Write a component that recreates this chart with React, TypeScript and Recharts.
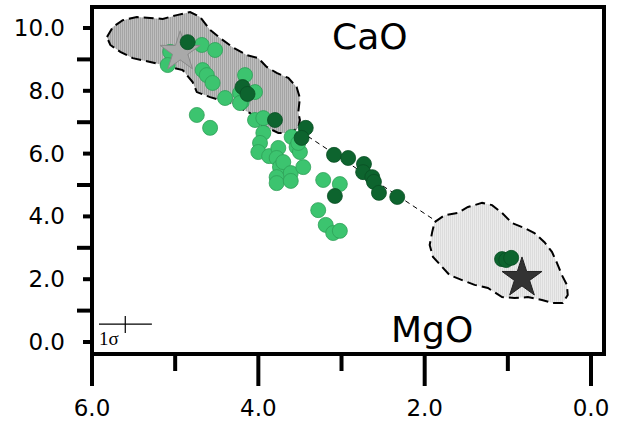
import { ScatterChart, Scatter, XAxis, YAxis, ReferenceArea, ReferenceLine } from "recharts";

// MgO (x) vs CaO (y), wt%
const lightPoints: [number, number][] = [
  [4.68, 9.46], [4.52, 9.3], [5.06, 9.24], [5.09, 8.82], [4.67, 8.66], [4.62, 8.5],
  [4.55, 8.25], [4.16, 8.5], [4.4, 7.77], [4.22, 7.93], [4.2, 7.64], [4.04, 7.96],
  [4.22, 7.61], [4.74, 7.23], [4.58, 6.82], [4.04, 7.07], [3.94, 7.13], [3.94, 6.66],
  [3.98, 6.34], [4.0, 6.05], [3.87, 5.92], [3.76, 6.18], [3.78, 5.86], [3.74, 5.57],
  [3.7, 5.73], [3.78, 5.25], [3.78, 5.06], [3.61, 5.38], [3.61, 5.13], [3.6, 6.53],
  [3.54, 6.21], [3.5, 6.05], [3.52, 6.34], [3.46, 5.57], [3.22, 5.16], [3.02, 5.03],
  [3.28, 4.2], [3.19, 3.73], [3.1, 3.47], [3.02, 3.54],
];

const darkPoints: [number, number][] = [
  [4.85, 9.55], [4.19, 8.12], [4.13, 7.9], [3.8, 7.07], [3.43, 6.82], [3.48, 6.5],
  [3.09, 5.96], [2.92, 5.86], [2.73, 5.67], [2.74, 5.41], [2.63, 5.25], [2.61, 5.1],
  [2.55, 4.75], [2.33, 4.62], [3.08, 4.65], [1.07, 2.64], [1.02, 2.61], [0.96, 2.68],
];

const upperField: [number, number][] = [
  [5.82, 9.71], [5.75, 10.03], [5.63, 10.25], [5.46, 10.35], [5.3, 10.32], [5.15, 10.29],
  [4.98, 10.41], [4.82, 10.51], [4.7, 10.35], [4.58, 9.94], [4.46, 9.68], [4.31, 9.39],
  [4.14, 9.14], [4.0, 9.04], [3.9, 8.76], [3.78, 8.57], [3.64, 8.41], [3.54, 8.12],
  [3.5, 7.77], [3.52, 7.32], [3.5, 7.07], [3.52, 6.82], [3.62, 6.66], [3.76, 6.66],
  [3.96, 6.91], [4.1, 7.29], [4.34, 7.61], [4.58, 7.8], [4.74, 7.96], [4.79, 8.28],
  [4.91, 8.66], [5.15, 8.82], [5.3, 8.92], [5.51, 9.04], [5.66, 9.24], [5.78, 9.46],
];

const lowerField: [number, number][] = [
  [1.88, 3.82], [1.76, 4.04], [1.6, 4.11], [1.48, 4.3], [1.31, 4.43], [1.19, 4.36],
  [1.07, 4.11], [0.95, 3.79], [0.8, 3.63], [0.68, 3.47], [0.56, 3.18], [0.47, 2.87],
  [0.41, 2.52], [0.35, 2.13], [0.29, 1.82], [0.28, 1.5], [0.34, 1.24], [0.46, 1.24],
  [0.59, 1.34], [0.76, 1.43], [0.92, 1.4], [1.07, 1.43], [1.24, 1.72], [1.4, 1.82],
  [1.55, 1.97], [1.7, 2.13], [1.79, 2.39], [1.9, 2.71], [1.94, 3.09], [1.91, 3.5],
];

const startStar: [number, number] = [4.94, 9.24];
const endStar: [number, number] = [0.83, 2.04];

const xTicks = [0, 1, 2, 3, 4, 5, 6];
const yTicks = [0, 1, 2, 3, 4, 5, 6, 7, 8, 9, 10];
const X_DOMAIN: [number, number] = [-0.156, 6];
const Y_DOMAIN: [number, number] = [-0.382, 10.669];

const FONT = "DejaVu Sans, sans-serif";

const toObj = (arr: [number, number][]) => arr.map(([mgo, cao]) => ({ mgo, cao }));

const XTick = ({ x, y, payload }: any) => {
  const major = payload.value % 2 === 0;
  return (
    <g>
      <line x1={x} x2={x} y1={y} y2={y + (major ? 32 : 17)} stroke="#000" strokeWidth={4} />
      {major && (
        <text x={x} y={y + 62} textAnchor="middle" fontSize={23} fontFamily={FONT} fill="#000">
          {payload.value.toFixed(1)}
        </text>
      )}
    </g>
  );
};

const YTick = ({ x, y, payload }: any) => {
  const major = payload.value % 2 === 0;
  return (
    <g>
      <line x1={x - (major ? 9 : 15)} x2={x} y1={y} y2={y} stroke="#000" strokeWidth={4} />
      {major && (
        <text x={x - 27} y={y + 8} textAnchor="end" fontSize={23} fontFamily={FONT} fill="#000">
          {payload.value.toFixed(1)}
        </text>
      )}
    </g>
  );
};

const Dot = (fill: string, stroke: string) => (props: any) => (
  <circle cx={props.cx} cy={props.cy} r={7.5} fill={fill} stroke={stroke} strokeWidth={0.8} />
);

const Star = (fill: string, stroke: string) => (props: any) => {
  const { cx, cy } = props;
  const pts: string[] = [];
  for (let i = 0; i < 10; i++) {
    const r = i % 2 === 0 ? 21 : 8;
    const a = -Math.PI / 2 + (i * Math.PI) / 5;
    pts.push(`${cx + r * Math.cos(a)},${cy + r * Math.sin(a)}`);
  }
  return <polygon points={pts.join(" ")} fill={fill} stroke={stroke} strokeWidth={1} />;
};

const Field = (fill: string) => (props: any) => {
  const pts = props.points || [];
  const d = pts.map((p: any, i: number) => `${i === 0 ? "M" : "L"}${p.x},${p.y}`).join(" ") + " Z";
  return <path d={d} fill={fill} stroke="#000" strokeWidth={2} strokeDasharray="10 5" />;
};

const noShape = () => <g />;

const App = () => {
  return (
    <div style={{ position: "absolute", left: 0, top: 0, width: 618, height: 437, background: "#fff" }}>
      <ScatterChart width={618} height={437} margin={{ top: 7, right: 14, bottom: 0, left: 0 }}>
        <defs>
          <pattern id="hatchDark" width="2" height="4" patternUnits="userSpaceOnUse">
            <rect width="2" height="4" fill="#bebebe" />
            <rect width="1" height="4" fill="#a4a4a4" />
          </pattern>
          <pattern id="hatchLight" width="2" height="4" patternUnits="userSpaceOnUse">
            <rect width="2" height="4" fill="#ebebeb" />
            <rect width="1" height="4" fill="#dcdcdc" />
          </pattern>
        </defs>
        <XAxis
          type="number"
          dataKey="mgo"
          domain={X_DOMAIN}
          ticks={xTicks}
          reversed
          allowDataOverflow
          height={83}
          axisLine={false}
          tickLine={false}
          tickSize={0}
          tickMargin={0}
          tick={<XTick />}
          interval={0}
        />
        <YAxis
          type="number"
          dataKey="cao"
          domain={Y_DOMAIN}
          ticks={yTicks}
          allowDataOverflow
          width={92}
          axisLine={false}
          tickLine={false}
          tickSize={0}
          tickMargin={0}
          tick={<YTick />}
          interval={0}
        />
        <Scatter data={toObj(upperField)} shape={noShape} line={Field("url(#hatchDark)")} isAnimationActive={false} />
        <Scatter data={toObj(lowerField)} shape={noShape} line={Field("url(#hatchLight)")} isAnimationActive={false} />
        <ReferenceLine
          segment={[
            { x: startStar[0], y: startStar[1] },
            { x: endStar[0], y: endStar[1] },
          ]}
          stroke="#000"
          strokeWidth={1}
          strokeDasharray="5 4"
        />
        <Scatter data={toObj(lightPoints)} shape={Dot("#3cc46f", "#2f9f58")} isAnimationActive={false} />
        <Scatter data={toObj([startStar])} shape={Star("#a9a9a9", "#8a8a8a")} isAnimationActive={false} />
        <Scatter data={toObj(darkPoints)} shape={Dot("#0d642e", "#0a4f24")} isAnimationActive={false} />
        <Scatter data={toObj([endStar])} shape={Star("#333333", "#222222")} isAnimationActive={false} />
        {/* 1 sigma error cross */}
        <ReferenceLine segment={[{ x: 5.916, y: 0.57 }, { x: 5.28, y: 0.57 }]} stroke="#000" strokeWidth={1.2} />
        <ReferenceLine segment={[{ x: 5.6, y: 0.83 }, { x: 5.6, y: 0.29 }]} stroke="#000" strokeWidth={1.2} />
        <ReferenceArea
          x1={X_DOMAIN[0]}
          x2={X_DOMAIN[1]}
          y1={Y_DOMAIN[0]}
          y2={Y_DOMAIN[1]}
          fill="none"
          stroke="#000"
          strokeWidth={4}
          ifOverflow="visible"
        />
        <text x={332} y={49} fontSize={36} fontFamily={FONT} fill="#000">CaO</text>
        <text x={391} y={342} fontSize={36} fontFamily={FONT} fill="#000">MgO</text>
        <text x={99} y={345} fontSize={19} fontFamily="Liberation Serif, serif" fill="#000">1σ</text>
      </ScatterChart>
    </div>
  );
};

export default App;
